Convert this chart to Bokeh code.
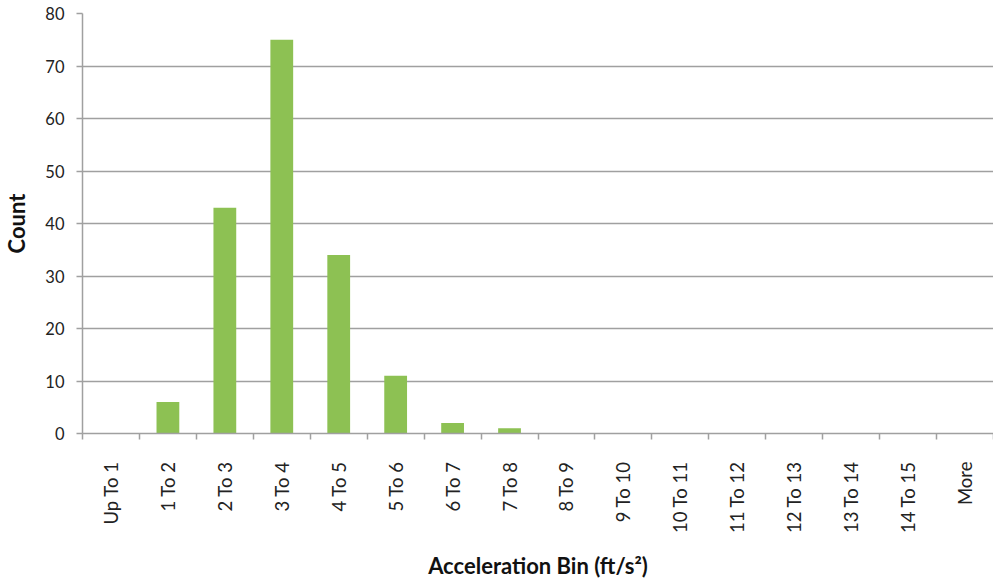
import math
from bokeh.plotting import figure
from bokeh.models import FixedTicker, ColumnDataSource, Range1d, CustomJSTickFormatter
from bokeh.embed import file_html
from bokeh.resources import INLINE

categories = ["Up To 1", "1 To 2", "2 To 3", "3 To 4", "4 To 5", "5 To 6", "6 To 7",
              "7 To 8", "8 To 9", "9 To 10", "10 To 11", "11 To 12", "12 To 13",
              "13 To 14", "14 To 15", "More"]
counts = [0, 6, 43, 75, 34, 11, 2, 1, 0, 0, 0, 0, 0, 0, 0, 0]
y_ticks = [0, 10, 20, 30, 40, 50, 60, 70, 80]

n = len(categories)
xs = [i + 0.5 for i in range(n)]
src = ColumnDataSource(dict(x=xs, top=counts, cat=categories))

FONT = "Lato"
GREY = "#a0a0a0"

p = figure(width=993, height=582, output_backend="svg", toolbar_location=None,
           x_range=Range1d(0, n), y_range=Range1d(0, 80),
           min_border_left=76, min_border_right=0, min_border_top=13,
           min_border_bottom=148)
p.outline_line_color = None
p.background_fill_color = "white"
p.border_fill_color = "white"

p.vbar(x="x", top="top", width=0.4, source=src, fill_color="#8dc153", line_color=None)

# x axis
xa = p.xaxis[0]
xa.ticker = FixedTicker(ticks=xs, minor_ticks=list(range(n + 1)))
xa.formatter = CustomJSTickFormatter(args=dict(cats=categories),
                                     code="return cats[Math.floor(tick)];")
xa.major_label_orientation = math.pi / 2
xa.major_tick_out = 0
xa.major_tick_in = 0
xa.minor_tick_out = 6
xa.minor_tick_in = 0
xa.minor_tick_line_color = GREY
xa.minor_tick_line_width = 1.5
xa.axis_line_color = GREY
xa.axis_line_width = 1.5
xa.major_label_standoff = 22
xa.major_label_text_font = FONT
xa.major_label_text_font_size = "18.5px"
xa.major_label_text_color = "#222222"
xa.axis_label = "Acceleration Bin (ft/s²)"
xa.axis_label_text_font = FONT
xa.axis_label_text_font_size = "22px"
xa.axis_label_text_font_style = "bold"
xa.axis_label_text_color = "#111111"
xa.axis_label_standoff = 16

# y axis
ya = p.yaxis[0]
ya.ticker = FixedTicker(ticks=y_ticks)
ya.major_tick_out = 6
ya.major_tick_in = 0
ya.minor_tick_out = 0
ya.minor_tick_in = 0
ya.major_tick_line_color = GREY
ya.major_tick_line_width = 1.5
ya.axis_line_color = GREY
ya.axis_line_width = 1.5
ya.major_label_standoff = 12
ya.major_label_text_font = FONT
ya.major_label_text_font_size = "16.5px"
ya.major_label_text_color = "#222222"
ya.axis_label = "Count"
ya.axis_label_text_font = FONT
ya.axis_label_text_font_size = "22px"
ya.axis_label_text_font_style = "bold"
ya.axis_label_text_color = "#111111"
ya.axis_label_standoff = 12

p.xgrid.visible = False
p.ygrid.ticker = FixedTicker(ticks=y_ticks)
p.ygrid.grid_line_color = GREY
p.ygrid.grid_line_width = 1.5

open("out.html", "w").write(file_html(p, INLINE))
